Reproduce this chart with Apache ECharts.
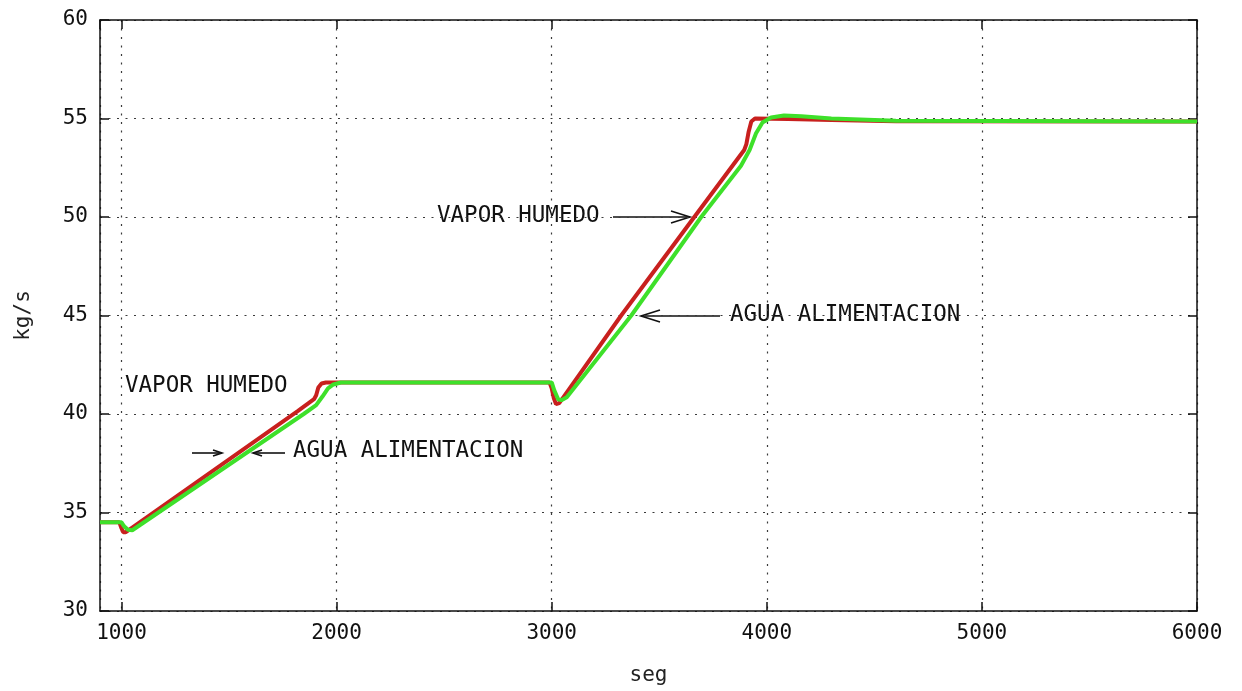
<!DOCTYPE html>
<html>
<head>
<meta charset="utf-8">
<script src="https://cdn.jsdelivr.net/npm/echarts@6/dist/echarts.min.js"></script>
<style>
  html, body { margin: 0; padding: 0; background: #ffffff; }
  #chart { width: 1242px; height: 691px; }
</style>
</head>
<body>
<div id="chart"></div>
<script>
// Steam flow (VAPOR HUMEDO) and feedwater flow (AGUA ALIMENTACION), kg/s vs time
const vaporT = [900, 990, 1000, 1008, 1020, 1819, 1895, 1905, 1915, 1930, 1950, 2990, 3000, 3010, 3020, 3035, 3323, 3663, 3895, 3905, 3915, 3928, 3945, 4100, 4300, 4600, 6000];
const vaporY = [34.5, 34.5, 34.2, 34.0, 34.0, 40.15, 40.75, 40.95, 41.35, 41.55, 41.6, 41.6, 41.3, 40.8, 40.5, 40.55, 45.0, 50.0, 53.4, 53.7, 54.3, 54.85, 55.0, 54.98, 54.92, 54.86, 54.85];

const aguaT = [900, 1000, 1012, 1030, 1050, 1847, 1905, 1935, 1960, 1985, 2020, 3000, 3012, 3030, 3045, 3070, 3370, 3695, 3880, 3920, 3950, 3980, 4020, 4080, 4160, 4300, 4600, 6000];
const aguaY = [34.5, 34.5, 34.3, 34.12, 34.1, 40.0, 40.45, 40.9, 41.3, 41.5, 41.6, 41.6, 41.2, 40.75, 40.7, 40.85, 45.0, 50.0, 52.6, 53.4, 54.25, 54.8, 55.05, 55.15, 55.12, 55.0, 54.88, 54.85];

const xTicks = [1000, 2000, 3000, 4000, 5000, 6000];
const yTicks = [30, 35, 40, 45, 50, 55, 60];

const pairs = (t, v) => t.map((x, i) => [x, v[i]]);

const FONT = 'DejaVu Sans Mono';
const chart = echarts.init(document.getElementById('chart'), null, { renderer: 'canvas' });

const frameLine = { show: true, lineStyle: { color: '#111', width: 1.5 } };
const innerTick = { show: true, inside: true, length: 9, lineStyle: { color: '#111', width: 1.5 } };
const dotted = { show: true, lineStyle: { color: '#3a3a3a', width: 1.2, type: [2, 6.5] } };

// arrow helper: shaft plus open head, pointing from x1 to x2 on row y
function arrow(x1, x2, y, hl, hw) {
  const dir = x2 > x1 ? 1 : -1;
  return {
    type: 'group',
    children: [
      { type: 'line', shape: { x1: x1, y1: y, x2: x2, y2: y }, style: { stroke: '#111', lineWidth: 1.6 } },
      { type: 'polyline', shape: { points: [[x2 - dir * hl, y - hw], [x2, y], [x2 - dir * hl, y + hw]] }, style: { stroke: '#111', lineWidth: 1.6, fill: null } }
    ]
  };
}

function label(text, x, y) {
  return {
    type: 'text', left: x, top: y - 12,
    style: { text: text, font: '22.5px "' + FONT + '"', fill: '#111' }
  };
}

chart.setOption({
  animation: false,
  backgroundColor: '#ffffff',
  grid: { left: 100, right: 45, top: 20, bottom: 79 },
  xAxis: [{
    type: 'value', min: 900, max: 6000, splitNumber: 5,
    name: 'seg', nameLocation: 'middle', nameGap: 54,
    nameTextStyle: { fontFamily: FONT, fontSize: 21, color: '#222' },
    axisLine: frameLine, axisTick: innerTick, splitLine: dotted,
    axisLabel: {
      showMinLabel: false, margin: 12, color: '#111', fontFamily: FONT, fontSize: 21,
      formatter: v => (xTicks.indexOf(v) >= 0 ? String(v) : '')
    }
  }, {
    type: 'value', position: 'top', min: 900, max: 6000, splitNumber: 5,
    axisLine: frameLine, axisTick: innerTick, axisLabel: { show: false }, splitLine: { show: false }
  }],
  yAxis: [{
    type: 'value', min: 30, max: 60, interval: 5,
    name: 'kg/s', nameLocation: 'middle', nameGap: 66,
    nameTextStyle: { fontFamily: FONT, fontSize: 21, color: '#222' },
    axisLine: frameLine, axisTick: innerTick, splitLine: dotted,
    axisLabel: {
      margin: 12, color: '#111', fontFamily: FONT, fontSize: 21,
      formatter: v => (yTicks.indexOf(v) >= 0 ? String(v) : '')
    }
  }, {
    type: 'value', position: 'right', min: 30, max: 60, interval: 5,
    axisLine: frameLine, axisTick: innerTick, axisLabel: { show: false }, splitLine: { show: false }
  }],
  series: [{
    name: 'VAPOR HUMEDO', type: 'line', data: pairs(vaporT, vaporY),
    showSymbol: false, symbol: 'none', smooth: false,
    lineStyle: { color: '#c8201e', width: 4 }, z: 3
  }, {
    name: 'AGUA ALIMENTACION', type: 'line', data: pairs(aguaT, aguaY),
    showSymbol: false, symbol: 'none', smooth: false,
    lineStyle: { color: '#3ee02a', width: 4 }, z: 4
  }],
  graphic: [
    label('VAPOR HUMEDO', 125, 387),
    arrow(192, 222, 453, 9, 3),
    arrow(285, 253, 453, 9, 3),
    label('AGUA ALIMENTACION', 293, 452),
    label('VAPOR HUMEDO', 437, 217),
    arrow(613, 690, 217, 19, 6),
    arrow(720, 641, 316, 19, 6),
    label('AGUA ALIMENTACION', 730, 316)
  ]
});
</script>
</body>
</html>
